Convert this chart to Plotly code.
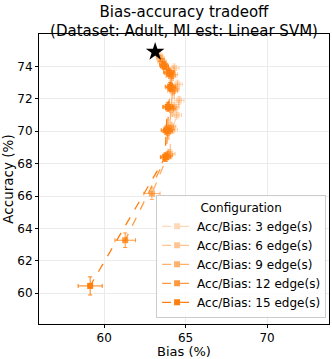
import plotly.graph_objects as go

# baseline (no edges removed)
base_bias = [63.13]
base_acc = [74.9]

labels = ["Acc/Bias: 3 edge(s)", "Acc/Bias: 6 edge(s)", "Acc/Bias: 9 edge(s)",
          "Acc/Bias: 12 edge(s)", "Acc/Bias: 15 edge(s)"]

bias_3 = [63.35, 64.3, 64.5, 64.6, 64.45, 64.2]
acc_3 = [74.7, 73.9, 72.9, 71.9, 71.0, 70.1]
bias_err_3 = [0.25, 0.3, 0.3, 0.3, 0.3, 0.3]
acc_err_3 = [0.2, 0.25, 0.25, 0.25, 0.25, 0.25]

bias_6 = [63.45, 64.2, 64.3, 64.3, 64.1, 64.05]
acc_6 = [74.5, 73.5, 72.6, 71.5, 70.3, 68.6]
bias_err_6 = [0.25, 0.3, 0.3, 0.3, 0.3, 0.3]
acc_err_6 = [0.2, 0.25, 0.25, 0.25, 0.25, 0.25]

bias_9 = [63.55, 64.1, 64.2, 64.1, 64.0, 63.9, 62.93]
acc_9 = [74.3, 73.4, 72.5, 71.4, 70.1, 68.5, 66.15]
bias_err_9 = [0.25, 0.3, 0.3, 0.3, 0.3, 0.3, 0.5]
acc_err_9 = [0.2, 0.25, 0.25, 0.25, 0.25, 0.25, 0.36]

bias_12 = [63.65, 64.0, 64.1, 63.95, 63.9, 63.8, 61.29]
acc_12 = [74.1, 73.6, 72.7, 71.5, 70.0, 68.4, 63.27]
bias_err_12 = [0.25, 0.3, 0.3, 0.3, 0.3, 0.3, 0.63]
acc_err_12 = [0.2, 0.25, 0.25, 0.25, 0.25, 0.25, 0.45]

bias_15 = [63.7, 63.95, 64.05, 63.9, 63.8, 63.75, 59.14]
acc_15 = [74.0, 73.65, 72.75, 71.5, 70.06, 68.4, 60.45]
bias_err_15 = [0.25, 0.3, 0.3, 0.3, 0.3, 0.3, 0.74]
acc_err_15 = [0.2, 0.25, 0.25, 0.25, 0.25, 0.25, 0.56]

alphas = [0.3, 0.45, 0.62, 0.8, 1.0]

series = [
    (bias_3, acc_3, bias_err_3, acc_err_3),
    (bias_6, acc_6, bias_err_6, acc_err_6),
    (bias_9, acc_9, bias_err_9, acc_err_9),
    (bias_12, acc_12, bias_err_12, acc_err_12),
    (bias_15, acc_15, bias_err_15, acc_err_15),
]

fig = go.Figure()
for (bx, ay, ex, ey), name, a in zip(series, labels, alphas):
    col = f"rgba(255,127,14,{a})"
    fig.add_trace(go.Scatter(
        x=bx, y=ay, mode="lines+markers", name=name,
        line=dict(color=col, width=1.3, dash="dash"),
        marker=dict(symbol="square", size=6, color=col),
        error_x=dict(type="data", array=ex, color=col, thickness=1, width=2),
        error_y=dict(type="data", array=ey, color=col, thickness=1, width=2),
    ))

fig.add_trace(go.Scatter(
    x=base_bias, y=base_acc, mode="markers", showlegend=False,
    marker=dict(symbol="star", size=14, color="black"),
))

fig.update_layout(
    width=332, height=359,
    margin=dict(l=39, r=3, t=34, b=35, autoexpand=False),
    paper_bgcolor="white", plot_bgcolor="white",
    font=dict(family="DejaVu Sans", size=12, color="black"),
    title=dict(
        text="Bias-accuracy tradeoff<br>(Dataset: Adult, MI est: Linear SVM)",
        xref="paper", x=0.5, xanchor="center",
        yref="container", y=0.953, yanchor="top",
        font=dict(size=15),
    ),
    legend=dict(
        title=dict(text="Configuration", side="top center", font=dict(size=12)),
        x=0.99, xanchor="right", y=0.02, yanchor="bottom",
        bgcolor="rgba(255,255,255,0.85)", bordercolor="#cccccc", borderwidth=1,
        font=dict(size=12), tracegroupgap=0, itemwidth=30,
    ),
)
fig.update_xaxes(
    range=[56.0, 73.8], tickvals=[60, 65, 70], automargin=False,
    showgrid=True, gridcolor="#ebebeb", gridwidth=1,
    showline=True, linecolor="black", linewidth=1, mirror=True,
    ticks="outside", ticklen=3, tickcolor="black", zeroline=False,
    tickfont=dict(size=12),
    title=dict(text="Bias (%)", font=dict(size=13), standoff=5),
)
fig.update_yaxes(
    range=[58.1, 76.0], tickvals=[60, 62, 64, 66, 68, 70, 72, 74], automargin=False,
    showgrid=True, gridcolor="#ebebeb", gridwidth=1,
    showline=True, linecolor="black", linewidth=1, mirror=True,
    ticks="outside", ticklen=3, tickcolor="black", zeroline=False,
    tickfont=dict(size=12),
    title=dict(text="Accuracy (%)", font=dict(size=13.5), standoff=3),
)

# drop the page's default body margin so the figure sits at the window's corner
fig.write_html("out.html", config={"displayModeBar": False},
               post_script="document.body.style.margin='0';")
